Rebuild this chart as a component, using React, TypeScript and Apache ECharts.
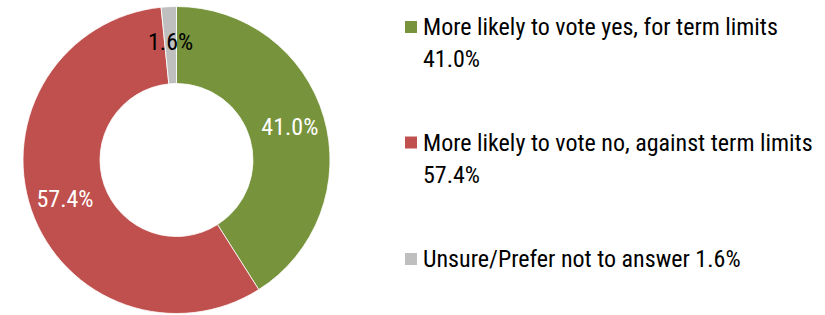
import React, { useEffect, useRef } from "react";
import * as echarts from "echarts";

const categories = [
  "More likely to vote yes, for term limits",
  "More likely to vote no, against term limits",
  "Unsure/Prefer not to answer",
];
const values = [41.0, 57.4, 1.6];
const colors = ["#77933C", "#C0504D", "#BFBFBF"];
const labelColors = ["#ffffff", "#ffffff", "#000000"];
const legendBreak = [true, true, false];

const FONT = "'Roboto Condensed', 'DejaVu Sans Condensed', sans-serif";

export default function App() {
  const ref = useRef<HTMLDivElement>(null);
  useEffect(() => {
    if (!ref.current) return;
    const chart = echarts.init(ref.current, undefined, { renderer: "svg" });
    const LH = 32;
    const markerCenters = [27, 142.5, 259];
    const legends = categories.map((name, i) => {
      const twoLine = legendBreak[i];
      const blockHalf = twoLine ? (3 * LH) / 2 : LH / 2;
      return {
        data: [name],
        orient: "vertical",
        left: 403,
        top: markerCenters[i] - blockHalf,
        padding: 0,
        itemWidth: 14,
        itemHeight: 14,
        itemGap: 0,
        icon: "rect",
        selectedMode: false,
        formatter: (n: string) => {
          const idx = categories.indexOf(n);
          const pct = values[idx].toFixed(1) + "%";
          return legendBreak[idx] ? "\n" + n + "\n" + pct : n + " " + pct;
        },
        textStyle: {
          fontFamily: FONT,
          fontSize: 24,
          color: "#000000",
          lineHeight: LH,
        },
      };
    });
    chart.setOption({
      animation: false,
      color: colors,
      legend: legends,
      series: [
        {
          type: "pie",
          center: [176.5, 160],
          radius: [76.5, 153.5],
          startAngle: 90,
          clockwise: true,
          avoidLabelOverlap: false,
          itemStyle: { borderColor: "#ffffff", borderWidth: 0.8 },
          label: {
            show: true,
            position: "inside",
            fontFamily: FONT,
            fontSize: 24,
            formatter: (p: any) => p.value.toFixed(1) + "%",
          },
          labelLine: { show: false },
          emphasis: { disabled: true },
          data: categories.map((name, i) => ({
            name,
            value: values[i],
            label: { color: labelColors[i] },
          })),
        },
      ],
    });
    return () => chart.dispose();
  }, []);
  return <div ref={ref} style={{ width: 825, height: 315, position: "absolute", left: 0, top: 0 }} />;
}
